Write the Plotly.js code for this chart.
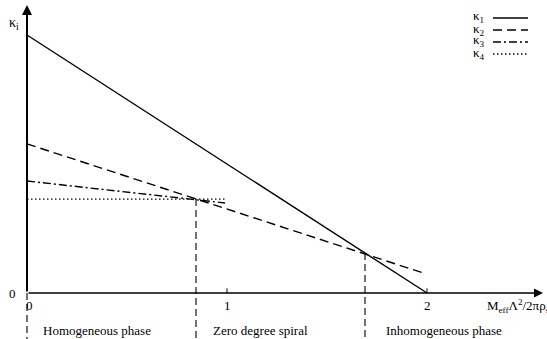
<!DOCTYPE html>
<html><head><meta charset="utf-8">
<script src="https://cdn.plot.ly/plotly-3.0.1.min.js"></script>
<style>html,body{margin:0;padding:0;background:#fff}#c{width:547px;height:339px}</style>
</head><body><div id="c"></div>
<script>
// Data
const seriesNames = ["κ<sub>1</sub>", "κ<sub>2</sub>", "κ<sub>3</sub>", "κ<sub>4</sub>"];
const k1X = [0, 2];     const k1Y = [1.0, 0.0];
const k2X = [0, 1.98];  const k2Y = [0.578, 0.078];
const k3X = [0, 0.99];  const k3Y = [0.434, 0.349];
const k4X = [0, 0.99];  const k4Y = [0.364, 0.364];
const dashes = ["solid", "9px,5px", "8px,3px,2px,3px", "1.5px,2.5px"];
const boundaryX = [0, 0.845, 1.69];
const boundaryTopY = [0, 0.364, 0.155];
const phaseLabels = ["Homogeneous phase", "Zero degree spiral", "Inhomogeneous phase"];
const xTickVals = [0, 1, 2];
const xTickText = ["0", "1", "2"];
const yTickVals = [0];
const yTickText = ["0"];

const FONT = '"Liberation Serif", "Times New Roman", serif';
const yBottom = -0.1783, yTop = 1.1357, xLeft = -0.135, xRight = 2.6;

const lineW = 1.4;
const traces = [[k1X,k1Y],[k2X,k2Y],[k3X,k3Y],[k4X,k4Y]].map((d,i)=>({
  x: d[0], y: d[1], mode: "lines", type: "scatter", name: seriesNames[i],
  line: {color: "#000", width: lineW, dash: dashes[i]}, hoverinfo: "skip", showlegend: false
}));
// boundary dashed lines
boundaryX.forEach((bx,i)=>{
  traces.push({x:[bx,bx], y:[boundaryTopY[i], yBottom], mode:"lines", type:"scatter",
    line:{color:"#000", width:1.1, dash:"7px,4px"}, showlegend:false, hoverinfo:"skip"});
});

const shapes = [];
const annotations = [];
// axes arrows
annotations.push({x: 2.58, y: 0, ax: 0, ay: 0, xref:"x", yref:"y", axref:"x", ayref:"y",
  showarrow:true, arrowhead:2, arrowsize:1.2, arrowwidth:1.5, arrowcolor:"#000", text:""});
annotations.push({x: 0, y: 1.116, ax: 0, ay: 0, xref:"x", yref:"y", axref:"x", ayref:"y",
  showarrow:true, arrowhead:2, arrowsize:1.0, arrowwidth:2, arrowcolor:"#000", text:""});
// x ticks
xTickVals.forEach((v,i)=>{
  if (v !== 0) shapes.push({type:"line", xref:"x", yref:"y", x0:v, x1:v, y0:0, y1:0.018, line:{color:"#000", width:1}});
  annotations.push({x:v, y:0, xref:"x", yref:"y", text:xTickText[i], showarrow:false,
    yanchor:"top", yshift:-3, xshift: v===0?2:0, font:{family:FONT, size:13, color:"#000"}});
});
yTickVals.forEach((v,i)=>{
  annotations.push({x:0, y:v, xref:"x", yref:"y", text:yTickText[i], showarrow:false,
    xanchor:"right", xshift:-9, font:{family:FONT, size:13, color:"#000"}});
});
// axis titles
annotations.push({x:0, y:1.046, xref:"x", yref:"y", text:"κ<sub>i</sub>", showarrow:false,
  xanchor:"right", xshift:-6, font:{family:FONT, size:14, color:"#000"}});
annotations.push({x:2.29, y:0, xref:"x", yref:"y", text:"M<sub>eff</sub>Λ<sup>2</sup>/2πρ<sub>s</sub>", showarrow:false,
  xanchor:"left", yanchor:"middle", yshift:-13, font:{family:FONT, size:13, color:"#000"}});
// phase labels
boundaryX.forEach((bx,i)=>{
  annotations.push({x:bx, y:yBottom, xref:"x", yref:"y", text:phaseLabels[i], showarrow:false,
    xanchor:"left", yanchor:"middle", xshift:[14,15,19][i], yshift:9, font:{family:FONT, size:13, color:"#000"}});
});
// legend
const legRowsPx = [18, 30, 42, 54];
seriesNames.forEach((n,i)=>{
  const py = 1 - legRowsPx[i]/339;
  annotations.push({x:471/547, y:py, xref:"paper", yref:"paper", text:n, showarrow:false,
    xanchor:"left", yanchor:"middle", yshift:1, font:{family:FONT, size:13, color:"#000"}});
  shapes.push({type:"line", xref:"paper", yref:"paper", x0:493/547, x1:528/547, y0:py, y1:py,
    line:{color:"#000", width:lineW, dash:dashes[i]}});
});

const layout = {
  width:547, height:339, margin:{l:0,r:0,t:0,b:0},
  paper_bgcolor:"#fff", plot_bgcolor:"#fff", showlegend:false,
  xaxis:{range:[xLeft,xRight], visible:false, fixedrange:true},
  yaxis:{range:[yBottom,yTop], visible:false, fixedrange:true},
  shapes, annotations
};
Plotly.newPlot("c", traces, layout, {staticPlot:true, displayModeBar:false});
</script></body></html>
